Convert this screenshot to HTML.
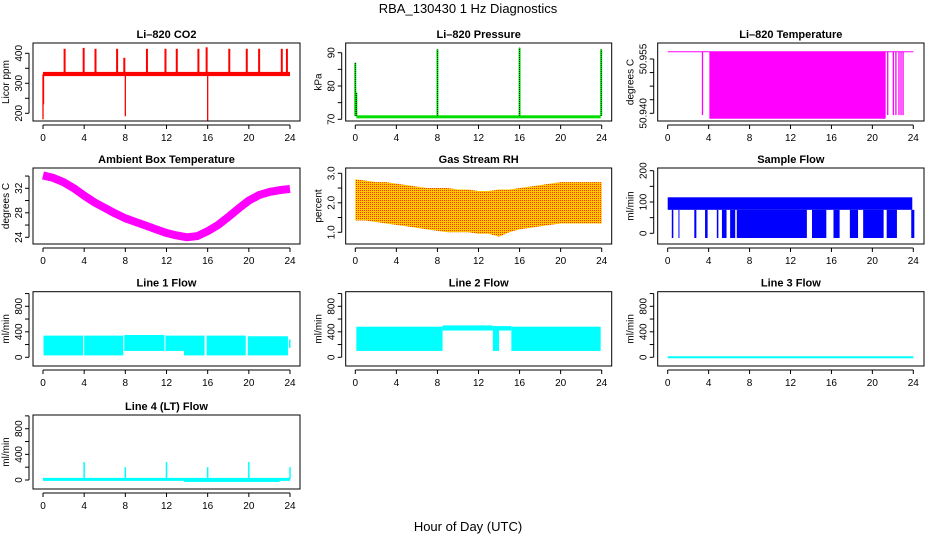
<!DOCTYPE html>
<html><head><meta charset="utf-8">
<style>
html,body{margin:0;padding:0;background:#fff;}
svg{display:block;font-family:"Liberation Sans",sans-serif;}
</style></head>
<body>
<svg id="c" width="936" height="540" viewBox="0 0 936 540" xmlns="http://www.w3.org/2000/svg">
<defs>
<pattern id="rh" width="2" height="2" patternUnits="userSpaceOnUse">
<rect width="2" height="2" fill="#ffc800"/><rect width="1" height="1" fill="#ff3000"/>
</pattern>
</defs>
<text x="468" y="13" text-anchor="middle" font-size="13">RBA_130430  1 Hz Diagnostics</text>
<text x="468" y="531" text-anchor="middle" font-size="13">Hour of Day (UTC)</text>
</svg>
<script>
// ---- data ----
const xTicks=[0,4,8,12,16,20,24];
// CO2
const co2Base=[330,324,338];
const co2SpikeHours=[2.1,3.95,5.1,7.2,7.9,10.1,11.9,13.0,15.1,15.9,18.1,19.8,21.0,23.2,23.7];
const co2SpikeVals=[415,418,415,415,385,415,415,415,415,420,415,415,415,415,415];
const co2DipHours=[0.0,0.05,8.0,16.0];
const co2DipVals=[180,230,190,175];
// Pressure
const presBase=[71,70.3,71.2];
const presSpikeHours=[0.0,0.1,8.0,16.0,23.95];
const presSpikeVals=[87,78,91,91.5,91];
// Li-820 temperature
const tempTop=50.957;
const tempFill=[4.07,21.3];
const tempLineHours=[3.4,21.5,22.05,22.3,22.6,22.8,23.0];
// Ambient box temperature (hourly centre)
const ambHours=[0,1,2,3,4,5,6,7,8,9,10,11,12,13,14,15,16,17,18,19,20,21,22,23,24];
const ambVals=[34.1,33.7,33.0,32.0,30.8,29.7,28.8,27.9,27.1,26.5,25.9,25.3,24.7,24.3,24.0,24.2,25.0,26.0,27.3,28.7,30.0,30.9,31.4,31.7,31.9];
// Gas stream RH (hourly band)
const rhHours=[0,1,2,3,4,5,6,7,8,9,10,11,12,13,14,15,16,17,18,19,20,21,22,23,24];
const rhHi=[2.8,2.75,2.7,2.7,2.65,2.6,2.55,2.5,2.5,2.5,2.45,2.45,2.4,2.4,2.45,2.45,2.5,2.55,2.6,2.65,2.7,2.7,2.7,2.7,2.7];
const rhLo=[1.4,1.4,1.35,1.3,1.25,1.2,1.15,1.1,1.05,1.0,1.0,1.0,0.95,0.95,0.85,1.0,1.1,1.15,1.2,1.25,1.3,1.3,1.3,1.3,1.3];
// Sample flow
const sfBand=[75,115];
const sfDropStart=[0.4,1.05,2.6,3.65,4.8,5.3,6.1,6.75,14.1,16.2,17.8,19.1,21.4,23.8];
const sfDropEnd=[0.55,1.12,2.8,3.9,4.95,5.75,6.6,13.6,15.5,16.8,18.6,21.1,22.4,24.1];
const sfDropVal=-15;
// Line 1 flow segments
const l1Start=[0.05,4.0,7.9,11.9,13.7,15.9,19.9];
const l1End=[3.9,7.8,11.8,13.7,15.7,19.7,23.8];
const l1Lo=[30,30,100,100,30,30,30];
const l1Hi=[340,340,350,340,340,340,330];
// Line 2 flow segments
const l2Start=[0.1,8.5,13.4,14.0,15.2];
const l2End=[8.5,13.4,14.0,15.2,23.9];
const l2Lo=[100,420,100,420,100];
const l2Hi=[480,500,490,490,480];
// Line 3 flow
const l3Val=0;
// Line 4 flow
const l4Base=10;
const l4SpikeHours=[4,8,12,16,20,24];
const l4SpikeVals=[280,200,280,200,280,200];
const l4NegStart=13.7,l4NegEnd=23.0,l4NegVal=-30;

// ---- layout ----
const svg=document.getElementById('c');
const NS='http://www.w3.org/2000/svg';
const cols=[{l:33,r:300,x0:43,x24:290},{l:345.7,r:611.7,x0:355.3,x24:601.7},{l:657.7,r:924,x0:667.7,x24:913.3}];
const rows=[{t:43,b:121},{t:168,b:244},{t:291.7,b:366},{t:415,b:489}];
function mk(tag,attrs,parent){const e=document.createElementNS(NS,tag);for(const k in attrs)e.setAttribute(k,attrs[k]);(parent||svg).appendChild(e);return e;}
function panel(ci,ri,name,title,ylab,v1,y1,v2,y2,yt,ylabs){
  const c=cols[ci],r=rows[ri];
  const g=mk('g',{});
  
  
  const X=h=>c.x0+(c.x24-c.x0)*h/24;
  const Y=v=>y1+(v-v1)*(y2-y1)/(v2-v1);
  const data=mk('g',{},g);
  
  
  const frame=mk('rect',{x:c.l,y:r.t,width:c.r-c.l,height:r.b-r.t,fill:'none',stroke:'#000','stroke-width':1},g);
  
  
  const tt=mk('text',{x:(c.l+c.r)/2,y:r.t-5,'text-anchor':'middle','font-size':11,'font-weight':'bold'},g);
  tt.textContent=title;
  
  
  const xa=mk('g',{},g);
  
  
  mk('line',{x1:X(0),x2:X(24),y1:r.b+4,y2:r.b+4,stroke:'#000'},xa);
  xTicks.forEach(h=>{mk('line',{x1:X(h),x2:X(h),y1:r.b+4,y2:r.b+8,stroke:'#000'},xa);
    const t=mk('text',{x:X(h),y:r.b+20,'text-anchor':'middle','font-size':10},xa);t.textContent=h;});
  const ya=mk('g',{},g);
  
  
  const yx=c.l-4;
  mk('line',{x1:yx,x2:yx,y1:Y(yt[0]),y2:Y(yt[yt.length-1]),stroke:'#000'},ya);
  yt.forEach(v=>mk('line',{x1:yx-4,x2:yx,y1:Y(v),y2:Y(v),stroke:'#000'},ya));
  ylabs.forEach(v=>{const t=mk('text',{x:0,y:0,'text-anchor':'middle','font-size':10,transform:`translate(${yx-7},${Y(+v)}) rotate(-90)`},ya);t.textContent=v;});
  const yl=mk('text',{x:0,y:0,'text-anchor':'middle','font-size':10,transform:`translate(${c.l-24},${(r.t+r.b)/2}) rotate(-90)`},g);
  yl.textContent=ylab;
  
  
  return {X,Y,g:data};
}
function vline(p,h,a,b,col,w){return mk('line',{x1:p.X(h),x2:p.X(h),y1:p.Y(a),y2:p.Y(b),stroke:col,'stroke-width':w||1},p.g);}
function rect(p,h1,h2,a,b,fill){const y1=p.Y(a),y2=p.Y(b);return mk('rect',{x:p.X(h1),y:Math.min(y1,y2),width:Math.max(1,p.X(h2)-p.X(h1)),height:Math.max(1,Math.abs(y2-y1)),fill:fill},p.g);}

// CO2
let p=panel(0,0,'co2','Li\u2013820 CO2','Licor ppm',200,113.3,400,53.3,[200,250,300,350,400],['200','300','400']);
rect(p,0,24,co2Base[1],co2Base[2],'#ff0000');
co2SpikeHours.forEach((h,i)=>vline(p,h,co2Base[0],co2SpikeVals[i],'#ff0000',2));
co2DipHours.forEach((h,i)=>vline(p,h,co2Base[0],co2DipVals[i],'#ff0000',1.3));

// Pressure
p=panel(1,0,'pressure','Li\u2013820 Pressure','kPa',70,119.3,90,52.7,[70,75,80,85,90],['70','80','90']);
rect(p,0.1,23.9,presBase[1],presBase[2],'#00dd00');
presSpikeHours.forEach((h,i)=>{vline(p,h,presBase[0],presSpikeVals[i],'#00dd00',2);
  mk('line',{x1:p.X(h),x2:p.X(h),y1:p.Y(presBase[0]),y2:p.Y(presSpikeVals[i]),stroke:'#000','stroke-width':0.8,'stroke-dasharray':'1,1'},p.g);});

// Li-820 temperature
p=panel(2,0,'li820-temperature','Li\u2013820 Temperature','degrees C',50.940,113.3,50.955,59,[50.940,50.94375,50.9475,50.95125,50.955],['50.940','50.955']);
mk('line',{x1:p.X(0),x2:p.X(24),y1:p.Y(tempTop),y2:p.Y(tempTop),stroke:'#ff00ff','stroke-width':1},p.g);
rect(p,tempFill[0],tempFill[1],tempTop,50.9385,'#ff00ff');
tempLineHours.forEach(h=>vline(p,h,tempTop,50.9395,'#ff00ff',1.3));

// Ambient box temp
p=panel(0,1,'ambient-temperature','Ambient Box Temperature','degrees C',24,237.3,32,188.3,[24,26,28,30,32,34],['24','28','32']);
{let d='';ambHours.forEach((h,i)=>{d+=(i?'L':'M')+p.X(h)+','+p.Y(ambVals[i]);});
 mk('path',{d:d,fill:'none',stroke:'#ff00ff','stroke-width':8,'stroke-linejoin':'round'},p.g);}

// RH
p=panel(1,1,'gas-stream-rh','Gas Stream RH','percent',1.0,232.3,3.0,173.3,[1.0,1.5,2.0,2.5,3.0],['1.0','2.0','3.0']);
{let d='';rhHours.forEach((h,i)=>{d+=(i?'L':'M')+p.X(h)+','+p.Y(rhHi[i]);});
 for(let i=rhHours.length-1;i>=0;i--)d+='L'+p.X(rhHours[i])+','+p.Y(rhLo[i]);
 mk('path',{d:d+'Z',fill:'url(#rh)'},p.g);}

// Sample flow
p=panel(2,1,'sample-flow','Sample Flow','ml/min',0,233.3,200,170.7,[0,50,100,150,200],['0','100','200']);
rect(p,0,23.9,sfBand[0],sfBand[1],'#0000ff');
sfDropStart.forEach((s,i)=>rect(p,s,sfDropEnd[i],sfDropVal,sfBand[0],'#0000ff'));

// Line 1
p=panel(0,2,'line1-flow','Line 1 Flow','ml/min',0,357.3,800,306.3,[0,200,400,600,800,1000],['0','400','800']);
l1Start.forEach((s,i)=>rect(p,s,l1End[i],l1Lo[i],l1Hi[i],'#00ffff'));
rect(p,23.9,24.05,150,280,'#00ffff');

// Line 2
p=panel(1,2,'line2-flow','Line 2 Flow','ml/min',0,357.3,800,306.3,[0,200,400,600,800,1000],['0','400','800']);
l2Start.forEach((s,i)=>rect(p,s,l2End[i],l2Lo[i],l2Hi[i],'#00ffff'));

// Line 3
p=panel(2,2,'line3-flow','Line 3 Flow','ml/min',0,357.3,800,306.3,[0,200,400,600,800,1000],['0','400','800']);
mk('line',{x1:p.X(0),x2:p.X(24),y1:p.Y(l3Val),y2:p.Y(l3Val),stroke:'#00ffff','stroke-width':2},p.g);

// Line 4
p=panel(0,3,'line4-flow','Line 4 (LT) Flow','ml/min',0,480,800,428.7,[0,200,400,600,800,1000],['0','400','800']);
rect(p,l4NegStart,l4NegEnd,l4NegVal,0,'#00ffff');
mk('line',{x1:p.X(0),x2:p.X(24),y1:p.Y(l4Base),y2:p.Y(l4Base),stroke:'#00ffff','stroke-width':3},p.g);
l4SpikeHours.forEach((h,i)=>vline(p,h,l4Base,l4SpikeVals[i],'#00ffff',1.5));
</script>
</body></html>
